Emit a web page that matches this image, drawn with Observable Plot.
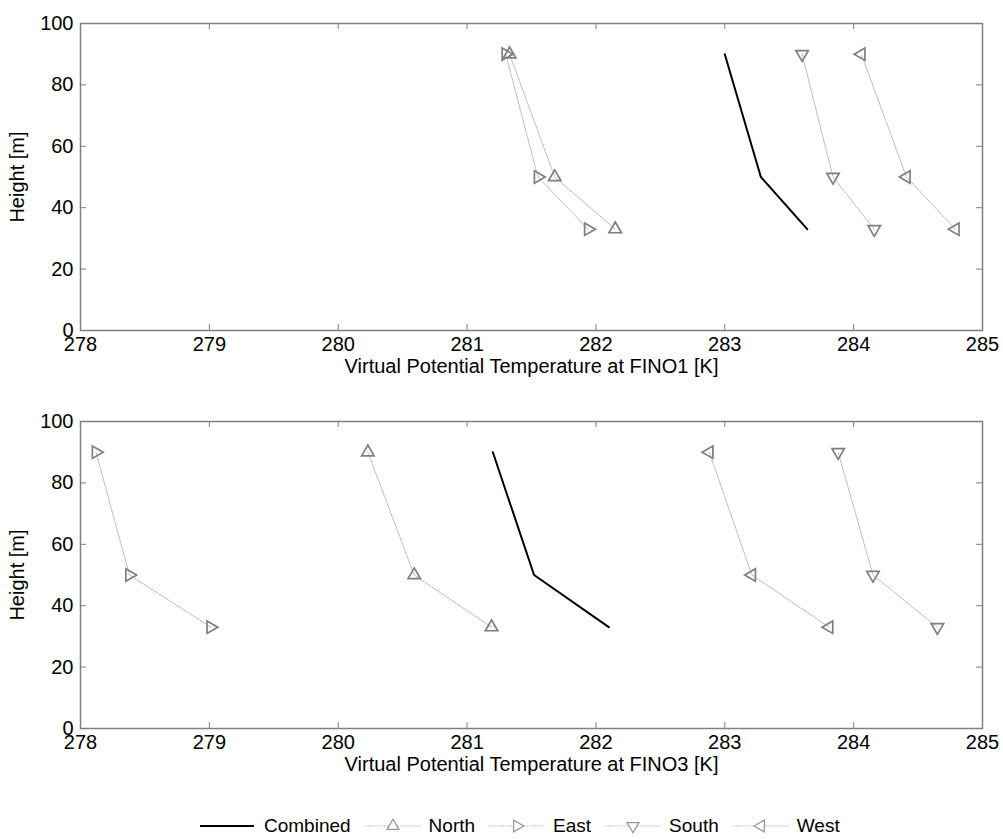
<!DOCTYPE html>
<html>
<head>
<meta charset="utf-8">
<script src="https://cdn.jsdelivr.net/npm/d3@7"></script>
<script src="https://cdn.jsdelivr.net/npm/@observablehq/plot@0.6"></script>
<style>
  html, body { margin: 0; padding: 0; background: #fff; }
  body { width: 1003px; height: 839px; overflow: hidden; font-family: "Liberation Sans", Arial, sans-serif; }
  svg { display: block; }
  #legend { display: flex; align-items: center; justify-content: flex-start; height: 30px; margin-top: 17px; padding-left: 198px; font-size: 19px; color: #000; }
  #legend .item { display: flex; align-items: center; margin-right: 12px; }
  #legend svg { margin-right: 6px; }
</style>
</head>
<body>
<div id="top"></div>
<div id="bottom"></div>
<div id="legend"></div>
<script>
// ---- data ----
const heights = [33, 50, 90];
const seriesNames = ["Combined", "North", "East", "South", "West"];
// FINO1 virtual potential temperature [K] at heights 33, 50, 90 m
const fino1Combined = [283.64, 283.28, 283.00];
const fino1North    = [282.15, 281.68, 281.33];
const fino1East     = [281.94, 281.55, 281.30];
const fino1South    = [284.16, 283.84, 283.60];
const fino1West     = [284.79, 284.41, 284.06];
// FINO3
const fino3Combined = [282.10, 281.52, 281.20];
const fino3North    = [281.19, 280.59, 280.23];
const fino3East     = [279.01, 278.38, 278.12];
const fino3South    = [284.65, 284.15, 283.88];
const fino3West     = [283.81, 283.21, 282.88];
const xTicks = [278, 279, 280, 281, 282, 283, 284, 285];
const yTicks = [0, 20, 40, 60, 80, 100];
const xLabels = ["Virtual Potential Temperature at FINO1 [K]", "Virtual Potential Temperature at FINO3 [K]"];
const yLabel = "Height [m]";

// ---- styles ----
const rotations = {North: 0, East: 90, South: 180, West: -90};
const markerGray = "#7f7f7f";
const dotLine = "#b4b4b4";
const frameGray = "#808080";
const W = 1003, ML = 80, MR = 21, FH = 307;
const FW = W - ML - MR;
const FS = 20;

function rows(arrs) {
  const out = [];
  seriesNames.forEach((s, i) => arrs[i].forEach((t, j) => out.push({series: s, temp: t, height: heights[j]})));
  return out;
}

function panel(data, xLabel, marginTop, marginBottom) {
  const dirs = data.filter(d => d.series !== "Combined");
  const comb = data.filter(d => d.series === "Combined");
  return Plot.plot({
    width: W,
    height: marginTop + FH + marginBottom,
    marginLeft: ML, marginRight: MR, marginTop, marginBottom,
    style: {fontFamily: "Liberation Sans, Arial, sans-serif", fontSize: FS + "px", color: "#000", background: "#fff"},
    x: {domain: [278, 285]},
    y: {domain: [0, 100]},
    marks: [
      Plot.line(dirs, {x: "temp", y: "height", z: "series", stroke: dotLine, strokeWidth: 1, strokeDasharray: "1.5,1.2"}),
      Plot.line(comb, {x: "temp", y: "height", stroke: "#000", strokeWidth: 2}),
      ...["North", "East", "South", "West"].map(s =>
        Plot.dot(dirs.filter(d => d.series === s), {x: "temp", y: "height", symbol: "triangle", r: 4.6, stroke: markerGray, strokeWidth: 1.7, fill: "none", rotate: rotations[s]})
      ),
      Plot.frame({stroke: frameGray, strokeWidth: 1.5}),
      Plot.tickX(xTicks, {x: d => d, insetTop: FH - 6, stroke: frameGray}),
      Plot.tickX(xTicks, {x: d => d, insetBottom: FH - 6, stroke: frameGray}),
      Plot.tickY(yTicks, {y: d => d, insetRight: FW - 6, stroke: frameGray}),
      Plot.tickY(yTicks, {y: d => d, insetLeft: FW - 6, stroke: frameGray}),
      Plot.axisX(xTicks, {anchor: "bottom", tickSize: 0, tickPadding: 6, tickFormat: d3.format("d"), label: xLabel, labelArrow: "none", labelAnchor: "center", labelOffset: 42, fontSize: FS}),
      Plot.axisY(yTicks, {anchor: "left", tickSize: 0, tickPadding: 7, tickFormat: d3.format("d"), label: yLabel, labelArrow: "none", labelAnchor: "center", labelOffset: 71, fontSize: FS})
    ]
  });
}

document.getElementById("top").append(panel(rows([fino1Combined, fino1North, fino1East, fino1South, fino1West]), xLabels[0], 23, 68));
document.getElementById("bottom").append(panel(rows([fino3Combined, fino3North, fino3East, fino3South, fino3West]), xLabels[1], 23, 66));

// ---- legend ----
const legend = d3.select("#legend");
seriesNames.forEach(s => {
  const item = legend.append("div").attr("class", "item");
  const svg = item.append("svg").attr("width", 60).attr("height", 18);
  if (s === "Combined") {
    svg.append("line").attr("x1", 2).attr("x2", 56).attr("y1", 9).attr("y2", 9).attr("stroke", "#000").attr("stroke-width", 2);
  } else {
    svg.append("line").attr("x1", 2).attr("x2", 58).attr("y1", 9).attr("y2", 9).attr("stroke", dotLine).attr("stroke-width", 1).attr("stroke-dasharray", "1.5,1.2");
    svg.append("path").attr("d", d3.symbol(d3.symbolTriangle, 60)())
      .attr("transform", `translate(30,9) rotate(${rotations[s]})`)
      .attr("fill", "#fff").attr("stroke", "#999").attr("stroke-width", 1.3);
  }
  item.append("span").text(s);
});
</script>
</body>
</html>
